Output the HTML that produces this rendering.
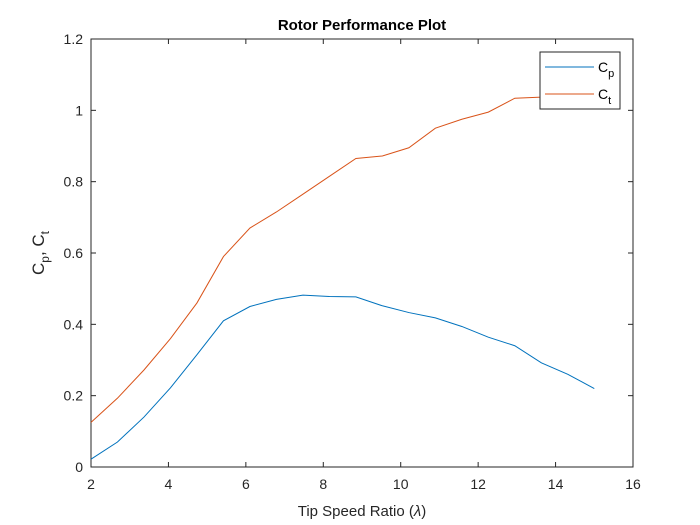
<!DOCTYPE html>
<html><head><meta charset="utf-8"><style>
body{margin:0;background:#fff;}
svg{display:block;font-family:"Liberation Sans",sans-serif;}
</style></head><body>
<svg id="chart" width="700" height="525">
<rect x="0" y="0" width="700" height="525" fill="#fff"/>
<g id="plot"></g>
</svg>
<script>
const tsr=[2,2.684,3.368,4.053,4.737,5.421,6.105,6.789,7.474,8.158,8.842,9.526,10.211,10.895,11.579,12.263,12.947,13.632,14.316,15];
const cp=[0.022,0.07,0.14,0.222,0.315,0.41,0.45,0.47,0.482,0.478,0.477,0.452,0.433,0.418,0.394,0.364,0.34,0.292,0.26,0.22];
const ct=[0.125,0.193,0.272,0.36,0.46,0.59,0.67,0.715,0.765,0.815,0.865,0.872,0.895,0.95,0.975,0.995,1.034,1.037,1.045,1.05];
const xTicks=[2,4,6,8,10,12,14,16];
const yTicks=[0,0.2,0.4,0.6,0.8,1,1.2];
const L=91,R=633,T=39,B=467;
const sx=v=>L+(v-2)/(16-2)*(R-L);
const sy=v=>B-v/1.2*(B-T);
const ns="http://www.w3.org/2000/svg";
const g=document.getElementById('plot');
function mk(t,a,p){const e=document.createElementNS(ns,t);for(const k in a)e.setAttribute(k,a[k]);(p||g).appendChild(e);return e;}
const box=mk('rect',{x:L,y:T,width:R-L,height:B-T,fill:'#fff',stroke:'#262626','stroke-width':1});


xTicks.forEach(v=>{const x=sx(v);
mk('line',{x1:x,x2:x,y1:B,y2:B-5,stroke:'#262626'});mk('line',{x1:x,x2:x,y1:T,y2:T+5,stroke:'#262626'});
const t=mk('text',{x:x,y:B+22,'text-anchor':'middle','font-size':14,fill:'#262626'});t.textContent=v;

});
yTicks.forEach(v=>{const y=sy(v);
mk('line',{x1:L,x2:L+5,y1:y,y2:y,stroke:'#262626'});mk('line',{x1:R,x2:R-5,y1:y,y2:y,stroke:'#262626'});
const t=mk('text',{x:L-8,y:y+5,'text-anchor':'end','font-size':14,fill:'#262626'});t.textContent=v;

});
function line(arr,c,name){const p=mk('polyline',{points:tsr.map((x,i)=>sx(x)+','+sy(arr[i])).join(' '),fill:'none',stroke:c,'stroke-width':1});

}
line(cp,'#0072BD','cp-line');
line(ct,'#D95319','ct-line');
</script>
<div style="position:absolute;left:0;top:0;width:700px;height:525px;pointer-events:none">
<svg width="700" height="525" style="font-family:'Liberation Sans',sans-serif">
<text x="362" y="30" text-anchor="middle" font-size="15" font-weight="bold" fill="#000">Rotor Performance Plot</text>
<text x="362" y="516" text-anchor="middle" font-size="15" fill="#262626">Tip Speed Ratio (<tspan font-style="italic">λ</tspan>)</text>
<text transform="translate(44,253) rotate(-90)" text-anchor="middle" font-size="17" fill="#262626">C<tspan font-size="12" dy="5">p</tspan><tspan dy="-5">, C</tspan><tspan font-size="12" dy="5">t</tspan></text>
<g>
<rect x="540" y="52" width="80" height="57" fill="#fff" stroke="#262626"/>
<line x1="545" x2="594" y1="67" y2="67" stroke="#0072BD"/>
<text x="598" y="72" font-size="14" fill="#000">C<tspan font-size="11" dy="5">p</tspan></text>
<line x1="545" x2="594" y1="94" y2="94" stroke="#D95319"/>
<text x="598" y="99" font-size="14" fill="#000">C<tspan font-size="11" dy="5">t</tspan></text>
</g>
</svg></div>
</body></html>
